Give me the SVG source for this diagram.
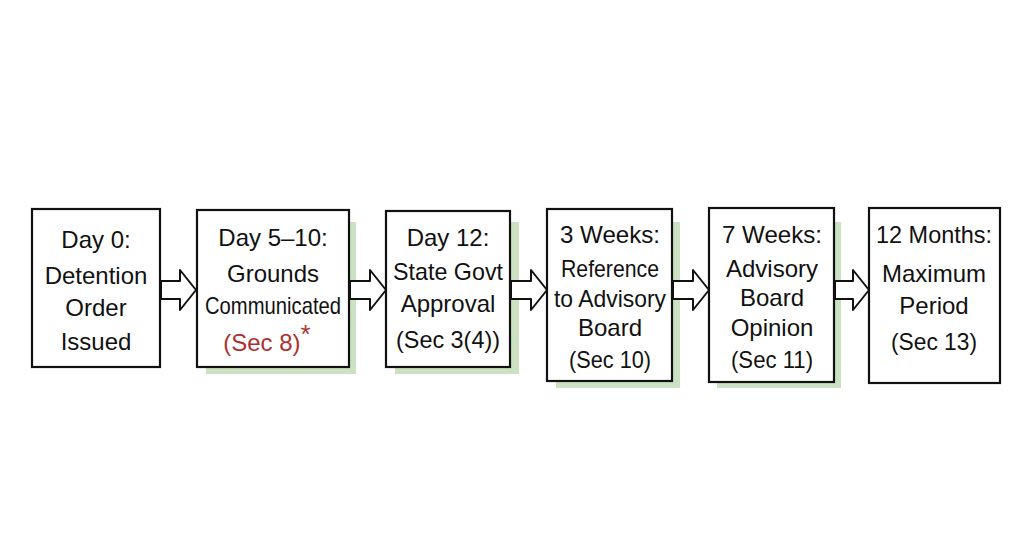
<svg xmlns="http://www.w3.org/2000/svg" width="1024" height="559" viewBox="0 0 1024 559">
<style>
.b{fill:#fff;stroke:#111;stroke-width:2.2}
.s{fill:#b9d8ad;opacity:.75}
.t{font-family:"Liberation Sans",sans-serif;font-size:24px;fill:#111;text-anchor:middle}
.a{fill:#fff;stroke:#111;stroke-width:2;stroke-linejoin:round}
</style>
<rect width="1024" height="559" fill="#fff"/>
<g id="shadows">
<rect class="s" x="206" y="222" width="150" height="152"/>
<rect class="s" x="395" y="222" width="124" height="152"/>
<rect class="s" x="556" y="222" width="124" height="166"/>
<rect class="s" x="717" y="222" width="124" height="166"/>
</g>
<g id="connectors">
<path class="a" d="M161,281 H180 V270 L196,290 L180,310 V299 H161 Z"/>
<path class="a" d="M350,281 H370 V270 L386,290 L370,310 V299 H350 Z"/>
<path class="a" d="M511,281 H531 V270 L547,290 L531,310 V299 H511 Z"/>
<path class="a" d="M673,281 H693 V270 L709,290 L693,310 V299 H673 Z"/>
<path class="a" d="M835,281 H853 V270 L869,290 L853,310 V299 H835 Z"/>
</g>
<g id="n1"><rect class="b" x="32" y="209" width="128" height="158"/>
<text class="t" x="96" y="248">Day 0:</text><text class="t" x="96" y="284">Detention</text><text class="t" x="96" y="316">Order</text><text class="t" x="96" y="350">Issued</text></g>
<g id="n2"><rect class="b" x="197" y="210" width="152" height="157"/>
<text class="t" x="273" y="246">Day 5–10:</text><text class="t" x="273" y="282">Grounds</text><text class="t" x="273" y="314" textLength="136" lengthAdjust="spacingAndGlyphs">Communicated</text><text class="t" x="267" y="351" style="fill:#b03030">(Sec 8)<tspan font-size="26" dy="-8" fill="#b03030">*</tspan></text></g>
<g id="n3"><rect class="b" x="386" y="211" width="124" height="156"/>
<text class="t" x="448" y="246">Day 12:</text><text class="t" x="448" y="280" textLength="110" lengthAdjust="spacingAndGlyphs">State Govt</text><text class="t" x="448" y="312">Approval</text><text class="t" x="448" y="348" textLength="104" lengthAdjust="spacingAndGlyphs">(Sec 3(4))</text></g>
<g id="n4"><rect class="b" x="547" y="209" width="125" height="172"/>
<text class="t" x="610" y="243" textLength="100" lengthAdjust="spacingAndGlyphs">3 Weeks:</text><text class="t" x="610" y="277" textLength="98" lengthAdjust="spacingAndGlyphs">Reference</text><text class="t" x="610" y="307" textLength="112" lengthAdjust="spacingAndGlyphs">to Advisory</text><text class="t" x="610" y="336">Board</text><text class="t" x="610" y="368" textLength="82" lengthAdjust="spacingAndGlyphs">(Sec 10)</text></g>
<g id="n5"><rect class="b" x="709" y="208" width="125" height="174"/>
<text class="t" x="772" y="243" textLength="100" lengthAdjust="spacingAndGlyphs">7 Weeks:</text><text class="t" x="772" y="277">Advisory</text><text class="t" x="772" y="306">Board</text><text class="t" x="772" y="336">Opinion</text><text class="t" x="772" y="368" textLength="82" lengthAdjust="spacingAndGlyphs">(Sec 11)</text></g>
<g id="n6"><rect class="b" x="869" y="208" width="131" height="175"/>
<text class="t" x="934" y="243" textLength="116" lengthAdjust="spacingAndGlyphs">12 Months:</text><text class="t" x="934" y="282">Maximum</text><text class="t" x="934" y="314">Period</text><text class="t" x="934" y="350" textLength="86" lengthAdjust="spacingAndGlyphs">(Sec 13)</text></g>
</svg>
